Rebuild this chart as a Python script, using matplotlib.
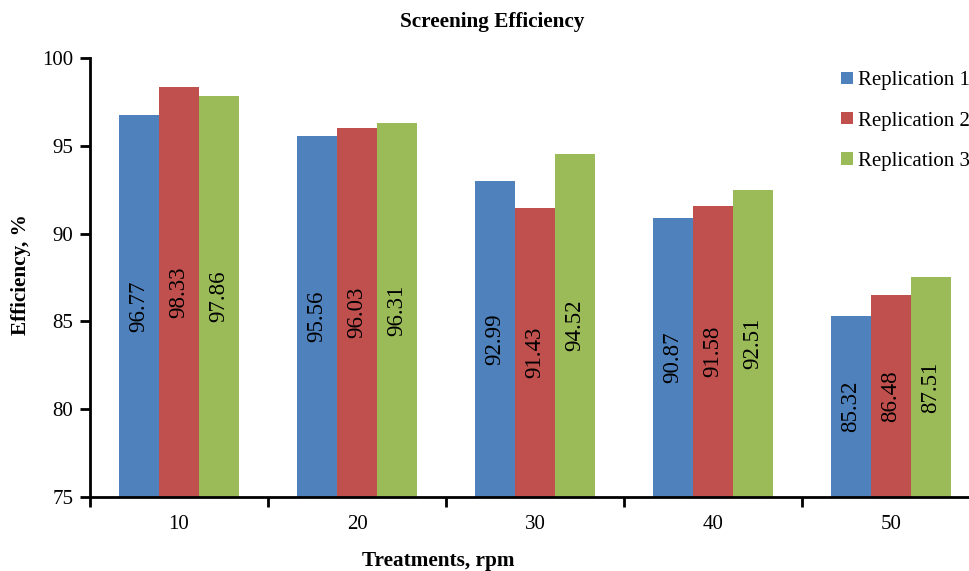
"""Screening efficiency by treatment speed, three replications."""

import numpy as np
import matplotlib.pyplot as plt

treatments = ["10", "20", "30", "40", "50"]
series_names = ["Replication 1", "Replication 2", "Replication 3"]
rep1 = [96.77, 95.56, 92.99, 90.87, 85.32]
rep2 = [98.33, 96.03, 91.43, 91.58, 86.48]
rep3 = [97.86, 96.31, 94.52, 92.51, 87.51]
colors = ["#4F81BD", "#C0504D", "#9BBB59"]

plt.rcParams["font.family"] = ["Liberation Serif", "DejaVu Serif"]

W, H = 969, 571
fig = plt.figure(figsize=(W / 100, H / 100), dpi=100)
# axes run past the right edge, as in the cropped original
ax = fig.add_axes([90 / W, (H - 497) / H, 890 / W, 439 / H])

base = 75
x = np.arange(len(treatments))
width = 0.2247
for i, (vals, name, c) in enumerate(zip([rep1, rep2, rep3], series_names, colors)):
    pos = x + (i - 1) * width
    heights = np.array(vals) - base
    ax.bar(pos, heights, width, bottom=base, color=c, label=name)
    for p, v in zip(pos, vals):
        ax.text(p, base + (v - base) / 2, f"{v:.2f}", rotation=90,
                ha="center", va="center", fontsize=16.5)

ax.set_xlim(-0.5, len(treatments) - 0.5)
ax.set_ylim(75, 100)
ax.set_yticks(np.arange(75, 101, 5))

# category boundaries as ticks, labels in the middle
ax.set_xticks(np.arange(len(treatments) + 1) - 0.5)
ax.set_xticklabels([])
ax.set_xticks(x, minor=True)
ax.set_xticklabels(treatments, minor=True)
ax.tick_params(axis="x", which="minor", length=0, pad=13, labelsize=15)
ax.tick_params(axis="x", which="major", length=7, width=2, direction="out")
ax.tick_params(axis="y", length=7, width=2, labelsize=15, pad=5)

for s in ["top", "right"]:
    ax.spines[s].set_visible(False)
for s in ["left", "bottom"]:
    ax.spines[s].set_linewidth(2)

fig.text(492 / W, 1 - 22 / H, "Screening Efficiency", ha="center", va="center",
         fontsize=15.3, fontweight="bold")
fig.text(438 / W, 1 - 561 / H, "Treatments, rpm", ha="center", va="center",
         fontsize=15.3, fontweight="bold")
fig.text(21 / W, 1 - 275 / H, "Efficiency, %", ha="center", va="center",
         rotation=90, fontsize=15.3, fontweight="bold")

fig.legend(loc="upper left", bbox_to_anchor=(833 / W, 1 - 63 / H), frameon=False,
           fontsize=15, handlelength=0.55, handleheight=0.55, handletextpad=0.25,
           labelspacing=1.02, borderaxespad=0)

fig.savefig("out.png", dpi=100)
